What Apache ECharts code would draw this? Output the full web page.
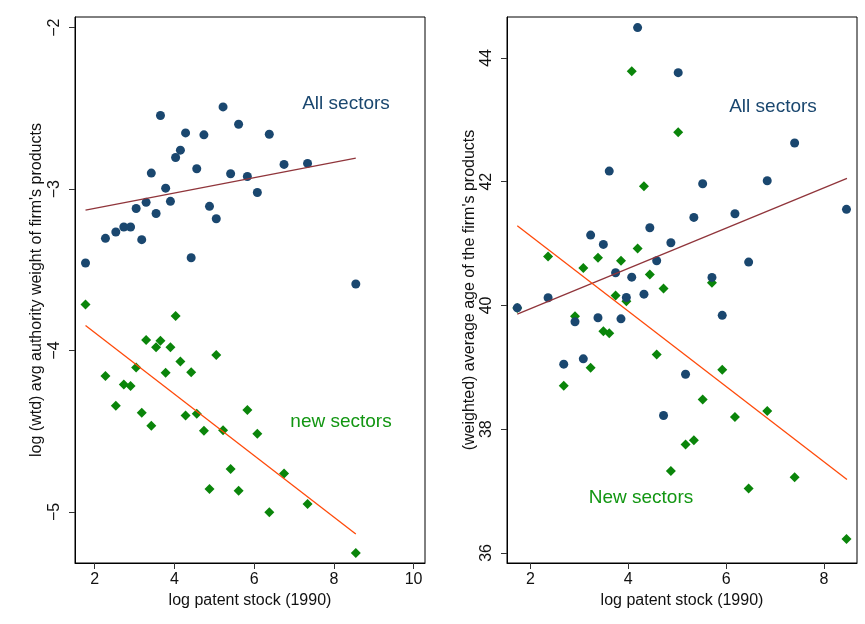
<!DOCTYPE html>
<html>
<head>
<meta charset="utf-8">
<script src="https://cdn.jsdelivr.net/npm/echarts@6/dist/echarts.min.js"></script>
<style>
  html, body { margin: 0; padding: 0; background: #fff; }
  #chart { width: 865px; height: 624px; }
</style>
</head>
<body>
<div id="chart"></div>
<script>
// left panel: log patent stock vs log authority weight
const leftPatent = [1.77, 2.27, 2.53, 2.73, 2.90, 3.04, 3.18, 3.29, 3.42, 3.54, 3.65, 3.78, 3.90, 4.03, 4.15,
  4.28, 4.42, 4.56, 4.74, 4.88, 5.05, 5.22, 5.41, 5.61, 5.83, 6.08, 6.38, 6.75, 7.34, 8.55];
const leftAll = [-3.458, -3.305, -3.266, -3.235, -3.235, -3.120, -3.313, -3.082, -2.901, -3.151, -2.544, -2.994,
  -3.076, -2.804, -2.759, -2.652, -3.425, -2.874, -2.664, -3.107, -3.184, -2.491, -2.905, -2.598, -2.922,
  -3.021, -2.660, -2.847, -2.841, -3.588];
const leftNew = [-3.715, -4.157, -4.342, -4.210, -4.219, -4.105, -4.386, -3.934, -4.466, -3.979, -3.940, -4.138,
  -3.979, -3.786, -4.068, -4.402, -4.134, -4.392, -4.497, -4.858, -4.027, -4.493, -4.734, -4.868, -4.369,
  -4.515, -5.002, -4.761, -4.951, -5.254];
const leftAllFit = [[1.77, -3.130], [8.55, -2.808]];
const leftNewFit = [[1.77, -3.845], [8.55, -5.136]];

// right panel: log patent stock vs average age of products
const rightPatent = [1.73, 2.36, 2.68, 2.91, 3.08, 3.23, 3.38, 3.49, 3.61, 3.74, 3.85, 3.96, 4.07, 4.19, 4.32,
  4.44, 4.58, 4.72, 4.87, 5.02, 5.17, 5.34, 5.52, 5.71, 5.92, 6.18, 6.46, 6.84, 7.40, 8.46];
const rightAll = [39.962, 40.124, 39.051, 39.736, 39.137, 41.137, 39.801, 40.987, 42.172, 40.528, 39.784, 40.129,
  40.458, 44.491, 40.183, 41.256, 40.722, 38.221, 41.013, 43.763, 38.889, 41.423, 41.968, 40.453, 39.84,
  41.482, 40.701, 42.016, 42.625, 41.553];
const rightNew = [39.96, 40.792, 38.701, 39.827, 40.604, 38.992, 40.771, 39.585, 39.553, 40.162, 40.722, 40.07,
  43.784, 40.922, 41.925, 40.501, 39.208, 40.275, 37.326, 42.798, 37.752, 37.822, 38.480, 40.367, 38.960,
  38.199, 37.040, 38.296, 37.224, 36.226];
const rightAllFit = [[1.73, 39.860], [8.47, 42.054]];
const rightNewFit = [[1.73, 41.288], [8.47, 37.186]];

const leftXTicks = [2, 4, 6, 8, 10];
const leftYTicks = [-5, -4, -3, -2];
const rightXTicks = [2, 4, 6, 8];
const rightYTicks = [36, 38, 40, 42, 44];

const FONT = 'Liberation Sans, Arial, sans-serif';
const NAVY = '#1a476f';
const GREEN = '#0a850a';
const MAROON = '#90353b';
const ORANGE = '#ff4a0a';

const zip = (xs, ys) => xs.map((x, i) => [x, ys[i]]);

function xAxis(idx, min, max, ticks) {
  return {
    type: 'value', gridIndex: idx, min: min, max: max,
    name: 'log patent stock (1990)', nameLocation: 'middle', nameGap: 24,
    nameTextStyle: { fontFamily: FONT, fontSize: 16, color: '#111' },
    axisLine: { onZero: false, lineStyle: { color: '#000', width: 1 } },
    axisTick: { customValues: ticks, length: 6, lineStyle: { color: '#333' } },
    axisLabel: { customValues: ticks, margin: 9, fontFamily: FONT, fontSize: 16, color: '#111' },
    splitLine: { show: false }
  };
}

function yAxis(idx, min, max, ticks, name, gap) {
  return {
    type: 'value', gridIndex: idx, min: min, max: max,
    name: name, nameLocation: 'middle', nameGap: gap,
    nameTextStyle: { fontFamily: FONT, fontSize: 16, color: '#111' },
    axisLine: { onZero: false, lineStyle: { color: '#000', width: 1 } },
    axisTick: { customValues: ticks, length: 6, lineStyle: { color: '#333' } },
    axisLabel: {
      customValues: ticks, rotate: 90, margin: 12, fontFamily: FONT, fontSize: 16, color: '#111',
      formatter: v => String(v).replace('-', '\u2212')
    },
    splitLine: { show: false }
  };
}

function scatter(idx, data, symbol, color, size) {
  return {
    type: 'scatter', xAxisIndex: idx, yAxisIndex: idx, data: data,
    symbol: symbol, symbolSize: size, itemStyle: { color: color, opacity: 1 },
    emphasis: { disabled: true }, silent: true
  };
}

function fit(idx, data, color) {
  return {
    type: 'line', xAxisIndex: idx, yAxisIndex: idx, data: data,
    symbol: 'none', lineStyle: { color: color, width: 1.3 }, silent: true
  };
}

const chart = echarts.init(document.getElementById('chart'), null, { renderer: 'canvas' });
chart.setOption({
  animation: false,
  backgroundColor: '#fff',
  grid: [
    { left: 75, top: 17, width: 350, height: 546, show: true, borderColor: '#000', borderWidth: 1, backgroundColor: 'transparent' },
    { left: 507, top: 17, width: 350, height: 546, show: true, borderColor: '#000', borderWidth: 1, backgroundColor: 'transparent' }
  ],
  xAxis: [
    xAxis(0, 1.506, 10.286, leftXTicks),
    xAxis(1, 1.52, 8.675, rightXTicks)
  ],
  yAxis: [
    yAxis(0, -5.316, -1.934, leftYTicks, "log (wtd) avg authority weight of firm's products", 30),
    yAxis(1, 35.838, 44.662, rightYTicks, "(weighted) average age of the firm's products", 29)
  ],
  series: [
    scatter(0, zip(leftPatent, leftNew), 'diamond', GREEN, 10),
    scatter(0, zip(leftPatent, leftAll), 'circle', NAVY, 9),
    fit(0, leftAllFit, MAROON),
    fit(0, leftNewFit, ORANGE),
    scatter(1, zip(rightPatent, rightNew), 'diamond', GREEN, 10),
    scatter(1, zip(rightPatent, rightAll), 'circle', NAVY, 9),
    fit(1, rightAllFit, MAROON),
    fit(1, rightNewFit, ORANGE)
  ],
  graphic: [
    { type: 'text', x: 346, y: 104, style: { text: 'All sectors', fill: NAVY, font: '19px ' + FONT, align: 'center', verticalAlign: 'middle' } },
    { type: 'text', x: 341, y: 422, style: { text: 'new sectors', fill: '#129612', font: '19px ' + FONT, align: 'center', verticalAlign: 'middle' } },
    { type: 'text', x: 773, y: 107, style: { text: 'All sectors', fill: NAVY, font: '19px ' + FONT, align: 'center', verticalAlign: 'middle' } },
    { type: 'text', x: 641, y: 498, style: { text: 'New sectors', fill: '#129612', font: '19px ' + FONT, align: 'center', verticalAlign: 'middle' } }
  ]
});
</script>
</body>
</html>
